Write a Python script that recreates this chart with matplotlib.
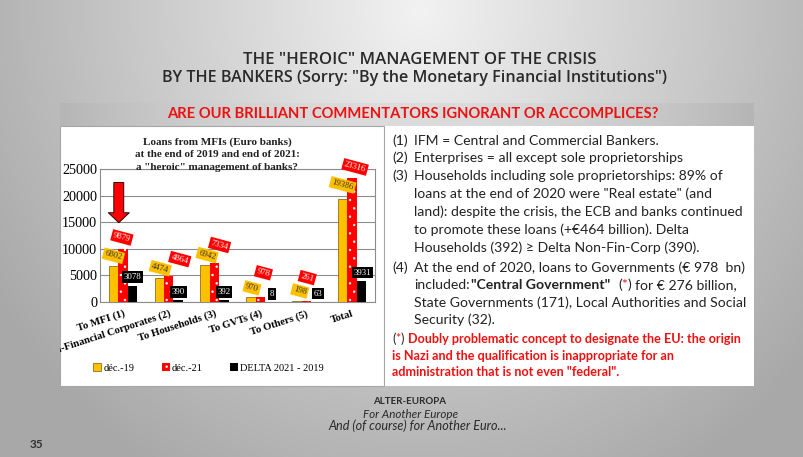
import numpy as np
import matplotlib
matplotlib.use('Agg')
import matplotlib.pyplot as plt
from matplotlib.patches import Rectangle
from matplotlib.transforms import Bbox, TransformedBbox

# ---------------- data ----------------
categories = ["To MFI (1)", "Non-Financial Corporates (2)", "To Households (3)",
              "To GVTs (4)", "To Others (5)", "Total"]
dec19 = [6802, 4474, 6942, 970, 198, 19386]
dec21 = [9879, 4864, 7334, 978, 261, 23316]
delta = [3078, 390, 392, 8, 63, 3931]
series_names = ["déc.-19", "déc.-21", "DELTA 2021 - 2019"]
yticks = [0, 5000, 10000, 15000, 20000, 25000]

# label offsets (pixels) - style only
gold_off = [(0, 10), (1, 10), (2, 10), (1, 9), (3, 10), (0, 14)]
red_off = [(-1, 12), (11, 17), (5, 18), (3, 24), (1, 23), (3, 11)]
blk_off = [(0, 8.5), (0, 8), (0, 8), (2, 8), (2, 8), (1, 8.5)]

plt.rcParams['hatch.linewidth'] = 0.5

W, H = 804, 457
fig = plt.figure(figsize=(W / 100, H / 100), dpi=100)
R = fig.canvas.get_renderer()

def fx(x):
    return x / W

def fy(y):
    return 1 - y / H

# ---------------- slide background ----------------
bg = fig.add_axes([0, 0, 1, 1], zorder=-10)
yy, xx = np.mgrid[0:H, 0:W]
d = np.sqrt(((xx - 420) / 520.0) ** 2 + ((yy - 10) / 560.0) ** 2)
g = np.clip(0.95 - 0.30 * d, 0.66, 1)
bg.imshow(np.dstack([g, g, g]), extent=[0, W, H, 0], aspect='auto', interpolation='bilinear')
# header band gradient
t = np.linspace(-1, 1, 400)
band = 0.86 - 0.15 * t ** 2
bandimg = np.dstack([band, band, band]).repeat(2, axis=0)
bg.imshow(bandimg, extent=[60, 754, 126, 103], aspect='auto', interpolation='bilinear')
bg.add_patch(Rectangle((60, 126), 694, 260, facecolor='white', edgecolor='none'))
bg.add_patch(Rectangle((60, 126), 324, 260, facecolor='none', edgecolor='#a6a6a6', lw=0.8))
bg.set_xlim(0, W)
bg.set_ylim(H, 0)
bg.axis('off')

def fit(x, y, s, target, ha='center', **kw):
    tt = bg.text(x, y, s, ha=ha, va='center', **kw)
    w = tt.get_window_extent(R).width
    tt.set_fontsize(tt.get_fontsize() * target / w)
    return tt

def fitsize(s, target, **kw):
    tt = bg.text(0, 0, s, **kw)
    w = tt.get_window_extent(R).width
    size = tt.get_fontsize() * target / w
    tt.remove()
    return size

# titles
fit(420, 60, 'THE "HEROIC" MANAGEMENT OF THE CRISIS', 350,
    family=['Open Sans', 'DejaVu Sans'], fontweight='semibold', color='#2a2a2a', fontsize=11)
fit(415, 77.5, 'BY THE BANKERS (Sorry: "By the Monetary Financial Institutions")', 504,
    family=['Open Sans', 'DejaVu Sans'], fontweight='semibold', color='#2a2a2a', fontsize=11)
fit(413, 113.5, 'ARE OUR BRILLIANT COMMENTATORS IGNORANT OR ACCOMPLICES?', 493,
    family=['Lato', 'DejaVu Sans'], fontweight='bold', color='#ee1111', fontsize=11)

# footer
fit(410, 401, 'ALTER-EUROPA', 73, family=['Lato', 'DejaVu Sans'], fontweight='bold',
    color='#2a2a2a', fontsize=8)
fit(411, 414, 'For Another Europe', 95, family=['Lato', 'DejaVu Sans'], style='italic',
    color='#2a2a2a', fontsize=8)
fit(418, 426, 'And (of course) for Another Euro...', 178, family=['Lato', 'DejaVu Sans'],
    style='italic', color='#2a2a2a', fontsize=8)
bg.text(36, 444, '35', ha='center', va='center', family=['Lato', 'DejaVu Sans'],
        fontweight='bold', fontsize=8.5, color='#333333')

# ---------------- right text panel ----------------
TF = ['Lato', 'DejaVu Sans']
fs = fitsize('Households including sole proprietorships: 89% of', 309, family=TF, fontsize=10)
fsr = fitsize('Doubly problematic concept to designate the EU: the origin', 334,
              family=TF, fontsize=10, fontweight='bold')
p1 = bg.text(0, 0, 'a a', family=TF, fontsize=fs)
p2 = bg.text(0, 0, 'aa', family=TF, fontsize=fs)
SP = p1.get_window_extent(R).width - p2.get_window_extent(R).width
p1.remove(); p2.remove()

RED = '#ee1111'
TXT = '#222222'

def rich(x, y, segs, size):
    for s, kw, gap in segs:
        kk = dict(family=TF, fontsize=size, color=TXT)
        kk.update(kw)
        tt = bg.text(x, y, s, ha='left', va='center', **kk)
        x += tt.get_window_extent(R).width + gap * SP

N = {}
B = {'fontweight': 'bold'}
RB = {'fontweight': 'bold', 'color': RED}
RC = {'color': RED}
X1, X2 = 392, 414
plain = [
    (141, '(1)', 'IFM = Central and Commercial Bankers.'),
    (158, '(2)', 'Enterprises = all except sole proprietorships'),
    (176, '(3)', 'Households including sole proprietorships: 89% of'),
    (194, None, 'loans at the end of 2020 were "Real estate" (and'),
    (212, None, 'land): despite the crisis, the ECB and banks continued'),
    (230, None, 'to promote these loans (+€464 billion). Delta'),
    (248, None, 'Households (392) ≥ Delta Non-Fin-Corp (390).'),
    (268, '(4)', 'At the end of 2020, loans to Governments (€ 978  bn)'),
    (303, None, 'State Governments (171), Local Authorities and Social'),
    (320, None, 'Security (32).'),
]
for y, num, s in plain:
    if num:
        bg.text(X1, y, num, ha='left', va='center', family=TF, fontsize=fs, color=TXT)
    bg.text(X2, y, s, ha='left', va='center', family=TF, fontsize=fs, color=TXT)

rich(X2, 285, [('included:', N, 0.5), ('"Central Government"', B, 2),
               ('(', N, 0), ('*', RC, 0), (')', N, 1), ('for € 276 billion,', N, 0)], fs)
rich(X1, 339, [('(', N, 0), ('*', RC, 0), (')', N, 1),
               ('Doubly problematic concept to designate the EU: the origin', RB, 0)], fsr)
bg.text(X1, 356, 'is Nazi and the qualification is inappropriate for an', ha='left', va='center',
        family=TF, fontsize=fsr, fontweight='bold', color=RED)
bg.text(X1, 372, 'administration that is not even "federal".', ha='left', va='center',
        family=TF, fontsize=fsr, fontweight='bold', color=RED)

# ---------------- chart ----------------
SERIF = 'Liberation Serif'
ax = fig.add_axes([fx(100), fy(302), 275 / W, 133 / H], zorder=1)
ax.patch.set_alpha(0)
x = np.arange(len(categories))
w = 0.207
b1 = ax.bar(x - w, dec19, w, color='#FFC000', edgecolor='#7a5c00', linewidth=0.5,
            label=series_names[0], zorder=3)
b2 = ax.bar(x, dec21, w, color='#FF0000', edgecolor='white', hatch='..', linewidth=0,
            label=series_names[1], zorder=3)
b3 = ax.bar(x + w, delta, w, color='black', linewidth=0, label=series_names[2], zorder=3)

ax.set_xlim(-0.5, len(categories) - 0.5)
ax.set_ylim(0, 25000)
ax.set_yticks(yticks)
ax.yaxis.grid(True, color='#8c8c8c', lw=0.8, zorder=0)
ax.set_axisbelow(True)
for sp in ax.spines.values():
    sp.set_color('#8c8c8c')
    sp.set_linewidth(0.8)
ax.tick_params(axis='both', length=0)
ax.tick_params(axis='y', pad=2)
ax.tick_params(axis='x', pad=5)
for lab in ax.get_yticklabels():
    lab.set_family(SERIF)
    lab.set_fontsize(10.2)
ax.set_xticks(x)
ax.set_xticklabels(categories, rotation=18, ha='right', va='top', rotation_mode='anchor',
                   fontweight='bold', fontsize=7.7, family=SERIF)
clipbb = TransformedBbox(Bbox.from_extents(fx(60), fy(386), fx(384), fy(126)), fig.transFigure)
for lab in ax.get_xticklabels():
    lab.set_clip_on(True)
    lab.set_clip_box(clipbb)

PX = 0.72
LFS = 6.3
for i in range(len(categories)):
    ax.annotate(f"{dec19[i]}", xy=(x[i] - w, dec19[i]),
                xytext=(gold_off[i][0] * PX, gold_off[i][1] * PX), textcoords='offset points',
                ha='center', va='center', rotation=-15, fontsize=LFS, family=SERIF,
                color='#333333', zorder=5,
                bbox=dict(boxstyle='square,pad=0.2', fc='#FFC000', ec='none'))
    ax.annotate(f"{dec21[i]}", xy=(x[i], dec21[i]),
                xytext=(red_off[i][0] * PX, red_off[i][1] * PX), textcoords='offset points',
                ha='center', va='center', rotation=-15, fontsize=LFS, family=SERIF,
                color='white', zorder=5,
                bbox=dict(boxstyle='square,pad=0.2', fc='#FF0000', ec='none'))
    ax.annotate(f"{delta[i]}", xy=(x[i] + w, delta[i]),
                xytext=(blk_off[i][0] * PX, blk_off[i][1] * PX), textcoords='offset points',
                ha='center', va='center', fontsize=LFS, family=SERIF,
                color='white', zorder=5,
                bbox=dict(boxstyle='square,pad=0.2', fc='black', ec='none'))

# red arrow pointing at "To MFI"
ax.annotate('', xy=(-0.09, 14900), xytext=(-0.09, 22450),
            arrowprops=dict(arrowstyle='simple,head_width=2.1,head_length=1.0,tail_width=1.0',
                            mutation_scale=7.2, fc='#FF0000', ec='black', lw=0.6,
                            shrinkA=0, shrinkB=0), annotation_clip=False, zorder=6)

ax.legend(handles=[b1, b2, b3], loc='center left', bbox_to_anchor=(fx(93), fy(368)),
          bbox_transform=fig.transFigure, ncol=3, frameon=False,
          prop=dict(family=SERIF, size=7.5), handlelength=0.8, handleheight=0.8,
          handletextpad=0.2, columnspacing=2.6, borderpad=0, borderaxespad=0)

# chart title
for yv, s in [(142, 'Loans from MFIs (Euro banks)'),
              (154.5, 'at the end of 2019 and end of 2021:'),
              (167, 'a "heroic" management of banks?')]:
    fig.text(fx(217), fy(yv), s, ha='center', va='center', family=SERIF, fontweight='bold',
             fontsize=8, color='#222222', zorder=10)

fig.savefig('out.png', dpi=100)
